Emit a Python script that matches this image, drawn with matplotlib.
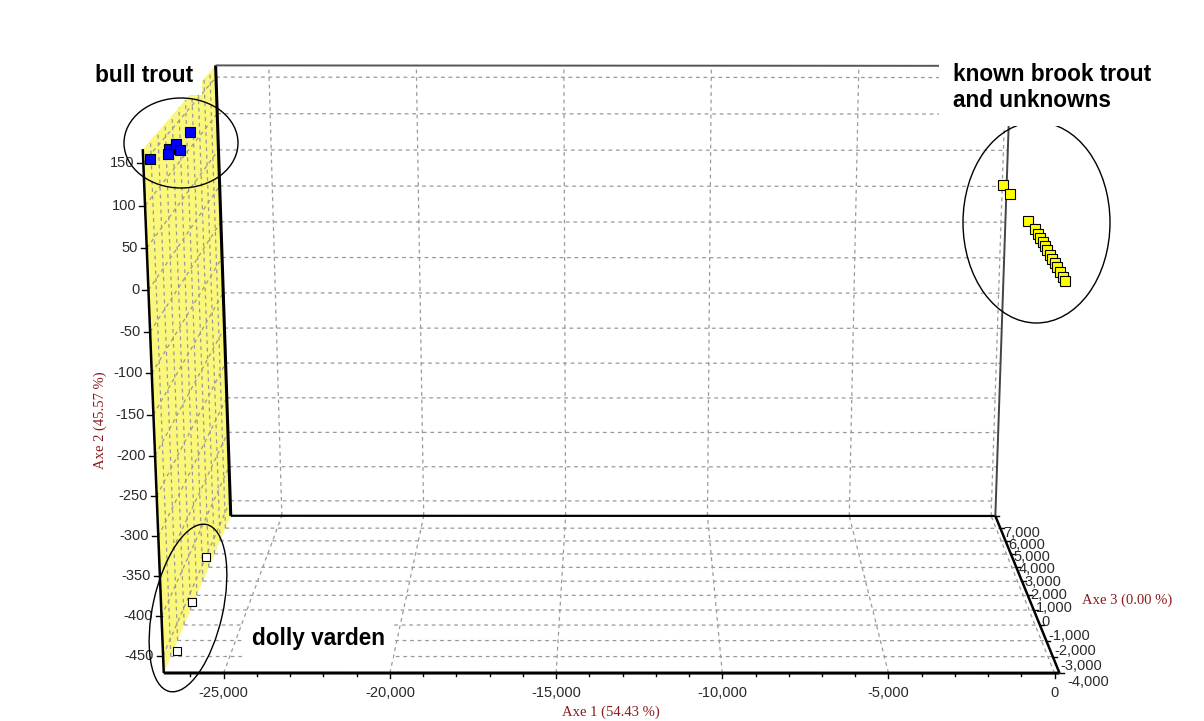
import numpy as np
import matplotlib
matplotlib.use('Agg')
import matplotlib.pyplot as plt
from matplotlib.patches import Ellipse, Polygon

# axis ranges: Axe 1, Axe 2, Axe 3
x_range = (-26800, 150)
y_range = (-472, 166)
z_range = (-4000, 7000)

x_ticks = [-25000, -20000, -15000, -10000, -5000, 0]
x_ticklabels = ['-25,000', '-20,000', '-15,000', '-10,000', '-5,000', '0']
y_ticks = list(range(-450, 151, 50))
z_ticks = list(range(-4000, 7001, 1000))
z_ticklabels = [f'{t:,}' for t in z_ticks]

# sample scores (Axe 1, Axe 2, Axe 3)
bull_axe1 = [-26760, -26740, -26750, -26730, -26770, -26750]
bull_axe2 = [147, 134, 128, 130, 115, 123]
bull_axe3 = [-3280, -920, -950, 30, 810, 2270]

dolly_axe1 = [-25510, -25980, -26490]
dolly_axe2 = [-335, -392, -455]
dolly_axe3 = [-3480, -3510, -3500]

brook_axe1 = [-1860, -1646, -1089, -874, -781, -717, -625, -561, -498, -404, -340, -247,
              -183, -89, 6, 69]
brook_axe2 = [113.5, 102.8, 70.5, 60.9, 54.9, 50.1, 45.3, 40.5, 35.6, 29.6, 24.8, 20.0,
              15.1, 9.1, 3.1, -1.8]
brook_axe3 = [-3000] * 16

ranges = [x_range, y_range, z_range]

# where box corners / a few ticks land on the page (pixels, y down) -> perspective camera
anchors = [
    ((x_range[0], y_range[0], z_range[0]), (163, 673)),
    ((x_range[1], y_range[0], z_range[0]), (1060, 673)),
    ((-25000, y_range[0], z_range[0]), (223, 673)),
    ((-5000, y_range[0], z_range[0]), (888, 673)),
    ((x_range[0], 150, z_range[0]), (145, 163)),
    ((x_range[0], 0, z_range[0]), (149, 290)),
    ((x_range[0], -250, z_range[0]), (157, 496)),
    ((x_range[0], -450, z_range[0]), (162, 656)),
    ((x_range[0], y_range[0], z_range[1]), (233, 516)),
    ((x_range[1], y_range[0], z_range[1]), (995, 516)),
    ((x_range[0], y_range[1], z_range[1]), (214, 66)),
    ((x_range[1], y_range[1], z_range[1]), (1011, 66)),
    ((x_range[0], 0, z_range[1]), (219, 185)),
]


def to_unit(x, y, z):
    out = []
    for v, (lo, hi) in zip((x, y, z), ranges):
        out.append((np.atleast_1d(np.asarray(v, float)) - lo) / (hi - lo))
    return np.broadcast_arrays(*out)


rows = []
for (X, Y, Z), (u, v) in anchors:
    a, b, c = [float(t[0]) for t in to_unit(X, Y, Z)]
    u, v = u / 1000, v / 1000
    rows.append([a, b, c, 1, 0, 0, 0, 0, -u * a, -u * b, -u * c, -u])
    rows.append([0, 0, 0, 0, a, b, c, 1, -v * a, -v * b, -v * c, -v])
P = np.linalg.svd(np.array(rows))[2][-1].reshape(3, 4)


def project(x, y, z):
    a, b, c = to_unit(x, y, z)
    h = P @ np.vstack([a, b, c, np.ones_like(a)])
    return 1000 * h[0] / h[2], 1000 * h[1] / h[2]


fig = plt.figure(figsize=(12.04, 7.21), dpi=100)
ax = fig.add_axes([0, 0, 1, 1])
ax.set_xlim(0, 1204)
ax.set_ylim(721, 0)
ax.axis('off')

x0, x1 = x_range
y0, y1 = y_range
z0, z1 = z_range
grid_kw = dict(color='#999999', lw=0.9, dashes=(3, 3), zorder=2)


def seg(p, q, **kw):
    xs, ys = project([p[0], q[0]], [p[1], q[1]], [p[2], q[2]])
    ax.plot(xs, ys, solid_capstyle='butt', **kw)


# left wall (yellow)
wx, wy = project([x0, x0, x0, x0], [y0, y1, y1, y0], [z0, z0, z1, z1])
ax.add_patch(Polygon(np.column_stack([wx, wy]), closed=True, fc='#fbf77a', ec='none', zorder=1))

# grids on the three panes
for y in y_ticks:
    seg((x0, y, z0), (x0, y, z1), **grid_kw)
    seg((x0, y, z1), (x1, y, z1), **grid_kw)
for z in z_ticks:
    seg((x0, y0, z), (x0, y1, z), **grid_kw)
    seg((x0, y0, z), (x1, y0, z), **grid_kw)
for x in x_ticks:
    seg((x, y0, z1), (x, y1, z1), **grid_kw)
    seg((x, y0, z0), (x, y0, z1), **grid_kw)

# box edges
seg((x0, y0, z0), (x0, y1, z0), color='black', lw=1.8, zorder=3)
seg((x0, y0, z0), (x1, y0, z0), color='black', lw=2.2, zorder=3)
seg((x1, y0, z0), (x1, y0, z1), color='black', lw=1.8, zorder=3)
seg((x0, y0, z1), (x0, y1, z1), color='black', lw=2.2, zorder=3)
seg((x0, y0, z1), (x1, y0, z1), color='black', lw=1.6, zorder=3)
seg((x0, y1, z1), (x1, y1, z1), color='#555555', lw=1.4, zorder=3)
seg((x1, y0, z1), (x1, y1, z1), color='#444444', lw=1.4, zorder=3)

tick_kw = dict(fontsize=10.5, color='#2a2a2a', family=['Liberation Sans', 'DejaVu Sans'])
lab_kw = dict(fontsize=10.5, color='#8b1a1a', family=['Liberation Serif', 'DejaVu Serif'])

# Axe 1
for x in range(-26000, 1, 1000):
    px, py = project(x, y0, z0)
    ln = 5 if x in x_ticks else 3
    ax.plot([px[0], px[0]], [py[0], py[0] + ln], color='black', lw=1, zorder=3)
for x, lab in zip(x_ticks, x_ticklabels):
    px, py = project(x, y0, z0)
    ax.text(px[0], py[0] + 20, lab, ha='center', va='center', **tick_kw)
ax.text(611, 712, 'Axe 1 (54.43 %)', ha='center', va='center', **lab_kw)

# Axe 2
for y in y_ticks:
    px, py = project(x0, y, z0)
    ax.plot([px[0] - 6, px[0]], [py[0], py[0]], color='black', lw=1, zorder=3)
    ax.text(px[0] - 9, py[0], str(y), ha='right', va='center', **tick_kw)
ax.text(100, 420, 'Axe 2 (45.57 %)', ha='center', va='center', rotation=90, **lab_kw)

# Axe 3
for z, lab in zip(z_ticks, z_ticklabels):
    px, py = project(x1, y0, z)
    c = (z - z0) / (z1 - z0)
    ax.plot([px[0], px[0] + 4], [py[0], py[0]], color='black', lw=1, zorder=3)
    ax.text(px[0] + 8, py[0] + 9 + 8 * c, lab, ha='left', va='center', **tick_kw)
ax.text(1082, 600, 'Axe 3 (0.00 %)', ha='left', va='center', **lab_kw)

# samples
groups = [
    (bull_axe1, bull_axe2, bull_axe3, '#0000ff', 6.8),
    (dolly_axe1, dolly_axe2, dolly_axe3, 'white', 6.2),
    (brook_axe1, brook_axe2, brook_axe3, '#ffff00', 6.5),
]
for gx, gy, gz, fc, ms in groups:
    px, py = project(gx, gy, gz)
    ax.plot(px, py, 's', ms=ms, mfc=fc, mec='black', mew=0.8, ls='none', zorder=5)

# group outlines and names
for (cx, cy), w, h, ang in (((181, 143), 114, 90, 0), ((1036.5, 222.5), 147, 201, 0),
                            ((188, 608), 70, 171, 12.5)):
    ax.add_patch(Ellipse((cx, cy), w, h, angle=ang, fill=False, ec='black', lw=1.0, zorder=6))

note_kw = dict(fontsize=16.3, fontweight='bold', color='black',
               family=['Liberation Sans', 'DejaVu Sans'], zorder=7)
ax.text(95, 75, 'bull trout', ha='left', va='center',
        bbox=dict(fc='white', ec='none', pad=6), **note_kw)
ax.text(953, 87.5, 'known brook trout\nand unknowns', ha='left', va='center', linespacing=1.2,
        bbox=dict(fc='white', ec='none', pad=10), **note_kw)
ax.text(252, 638, 'dolly varden', ha='left', va='center',
        bbox=dict(fc='white', ec='none', pad=6), **note_kw)

fig.savefig('out.png', dpi=100)
